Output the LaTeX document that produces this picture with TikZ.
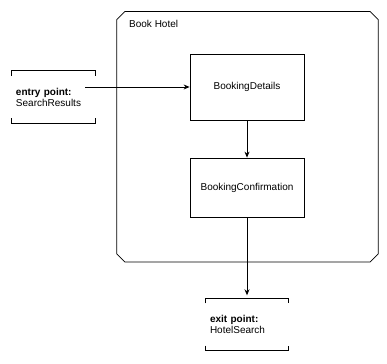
\documentclass[tikz,border=0pt]{standalone}
\usepackage{fontspec}
\setmainfont{Liberation Sans}
\usetikzlibrary{arrows.meta}
\begin{document}
\begin{tikzpicture}[x=1pt,y=-1pt]
        \tikzstyle{txt}=[font=\fontsize{10}{11}\selectfont]
        \tikzstyle{screen}=[txt, rectangle, draw, line width=0.8pt, minimum width=114pt, inner sep=0pt]
        \tikzstyle{point}=[txt, rectangle, minimum height=52pt, align=left, inner xsep=4pt, inner ysep=0pt]
        \tikzstyle{bracket}=[line width=0.8pt]
        \tikzstyle{flow}=[-{Stealth[length=6pt,width=5pt]}, line width=0.8pt]

        \useasboundingbox (0,0) rectangle (387,363);

        \node[minimum width=261pt, minimum height=250pt, inner sep=0pt] (hotel) at (247.5,136.75) {};
        \draw[line width=0.8pt] ([xshift=8pt]hotel.north west) -- ([xshift=-8pt]hotel.north east) -- ([yshift=-8pt]hotel.north east)
            -- ([yshift=8pt]hotel.south east) -- ([xshift=-8pt]hotel.south east) -- ([xshift=8pt]hotel.south west)
            -- ([yshift=8pt]hotel.south west) -- ([yshift=-8pt]hotel.north west) -- cycle;
        \node[txt, anchor=west, inner sep=0pt] (title) at (129,24) {Book Hotel};

        \node[screen, minimum height=66pt] (details) at (247,87) {BookingDetails};
        \node[screen, minimum height=59pt] (confirm) at (247,187.5) {BookingConfirmation};

        \node[point, text width=75pt] (entry) at (53.5,97) {\textbf{entry point:}\\SearchResults};
        \node[point, text width=74pt] (exit) at (247,324.5) {\textbf{exit point:}\\HotelSearch};

        \draw[bracket] ([yshift=-5pt]entry.north west) -- (entry.north west) -- (entry.north east) -- ([yshift=-5pt]entry.north east);
        \draw[bracket] ([yshift=5pt]entry.south west) -- (entry.south west) -- (entry.south east) -- ([yshift=5pt]entry.south east);
        \draw[bracket] ([yshift=-5pt]exit.north west) -- (exit.north west) -- (exit.north east) -- ([yshift=-5pt]exit.north east);
        \draw[bracket] ([yshift=5pt]exit.south west) -- (exit.south west) -- (exit.south east) -- ([yshift=5pt]exit.south east);

        \path (entry.east |- details.west) ++(-10,0) coordinate (entry out);
        \draw[flow] (entry out) -- (details.west);
        \draw[flow] (details) -- (confirm);
        \draw[flow, shorten >=3pt] (confirm.south) -- (exit.north);
    \end{tikzpicture}
\end{document}
